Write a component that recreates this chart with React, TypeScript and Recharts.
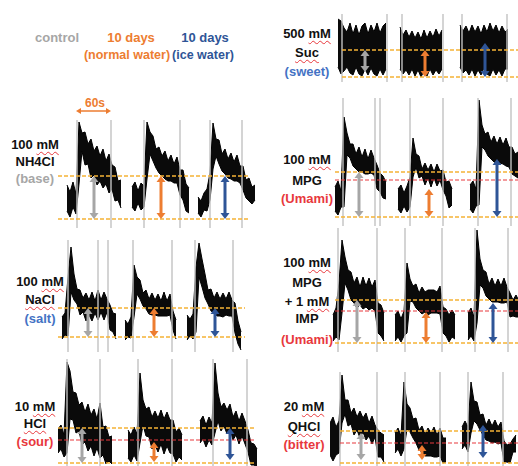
import React from "react";
import { ComposedChart, Area, XAxis, YAxis, ReferenceLine } from "recharts";

// trace envelopes: min/max of the recording, sampled every STEP seconds
// (units on y: response above the lower dashed baseline)
const STEP = 6;

const nh4Start = [18, 148, 280];
const nh4Hi = [
  [34, 27, 37, 25, 97, 86, 87, 75, 80, 68, 73, 63, 70, 58, 65, 54, 52, 38, 39],
  [32, 37, 28, 36, 33, 97, 87, 83, 70, 72, 63, 68, 58, 64, 55, 62, 49, 49, 35, 31],
  [22, 18, 26, 30, 46, 96, 80, 79, 65, 70, 60, 66, 57, 64, 53, 53, 39, 41, 32, 34],
];
const nh4Lo = [
  [8, 2, 12, 5, 35, 68, 54, 55, 41, 44, 34, 38, 31, 35, 26, 30, 18, 19, 11],
  [12, 8, 16, 9, 12, 40, 65, 58, 51, 46, 43, 40, 38, 38, 36, 36, 24, 19, 8, 6],
  [6, 2, 9, 8, 19, 50, 63, 55, 48, 45, 41, 40, 38, 38, 36, 29, 21, 18, 15, 19],
];

const naclStart = [8, 134, 258];
const naclHi = [
  [20, 24, 60, 90, 63, 48, 47, 39, 44, 37, 45, 36, 47, 37, 45, 38, 32, 24, 23],
  [17, 13, 20, 72, 60, 57, 44, 47, 38, 44, 37, 43, 36, 45, 36, 43, 26, 17],
  [22, 18, 23, 70, 94, 78, 63, 47, 48, 39, 45, 38, 44, 38, 45, 37, 34, 16, 5],
];
const naclLo = [
  [-2, 2, 1, 45, 37, 33, 22, 25, 16, 22, 16, 24, 17, 25, 17, 25, 7, 5, -2],
  [-3, 0, -1, 20, 43, 38, 31, 28, 23, 22, 22, 21, 21, 21, 21, 22, 7, -2],
  [-3, 1, -2, 5, 60, 50, 39, 33, 26, 24, 21, 21, 20, 22, 21, 21, 4, -7, -13],
];

const hclStart = [0, 140, 284];
const hclHi = [
  [34, 38, 28, 101, 92, 71, 70, 58, 61, 51, 59, 48, 54, 44, 60, 36, 37, 26, 27],
  [33, 28, 36, 29, 90, 63, 54, 56, 46, 52, 45, 53, 44, 51, 43, 43, 31, 35, 28],
  [42, 47, 38, 46, 40, 100, 70, 56, 60, 53, 59, 46, 52, 42, 50, 42, 33, 20, 19, 14],
];
const hclLo = [
  [10, 14, 6, 10, 44, 43, 30, 32, 18, 21, 12, 17, 7, 15, 5, 8, -1, 2, -1],
  [5, 1, 8, 2, 20, 38, 27, 26, 14, 18, 11, 19, 9, 17, 10, 9, 1, 6, 3],
  [20, 24, 16, 23, 18, 30, 42, 32, 37, 29, 34, 23, 28, 19, 27, 19, 11, -2, -2, -4],
];

const sucStart = [16, 140, 260];
const sucHi = [
  [58, 56, 49, 45, 54, 43, 52, 42, 51, 54, 43, 52, 45, 54, 44, 51, 54],
  [50, 42, 47, 40, 46, 39, 45, 38, 47, 39, 46, 40, 48, 41, 47],
  [52, 46, 51, 44, 52, 45, 51, 43, 52, 45, 54, 46, 52, 44, 51, 45, 48],
];
const sucLo = [
  [10, 3, 6, 10, 4, 2, 10, 3, 1, 8, 2, 9, 3, 1, 8, 2, 8],
  [8, 3, 7, 2, 8, 1, 7, 0, 6, 1, 8, 2, 7, 3, 8],
  [10, 4, 7, 2, 8, 1, 7, 2, 9, 3, 1, 8, 2, 7, 1, 8, 8],
];

const mpgStart = [10, 136, 280];
const mpgHi = [
  [30, 36, 26, 100, 84, 73, 73, 63, 70, 60, 68, 58, 67, 59, 52, 44, 41, 35],
  [28, 32, 24, 31, 40, 79, 63, 61, 48, 54, 47, 53, 45, 53, 46, 47, 35, 36, 28],
  [32, 36, 28, 117, 92, 83, 85, 75, 81, 73, 80, 72, 79, 70, 70, 63, 65],
];
const mpgLo = [
  [6, 2, 10, 10, 62, 59, 51, 48, 45, 45, 43, 43, 44, 42, 28, 25, 19, 18],
  [8, 4, 11, 5, 10, 40, 50, 39, 41, 32, 39, 30, 39, 31, 37, 27, 21, 9, 12],
  [8, 4, 11, 12, 70, 67, 61, 58, 55, 54, 54, 53, 51, 50, 43, 41, 39],
];

const impStart = [6, 130, 276];
const impHi = [
  [28, 35, 60, 103, 86, 73, 71, 60, 66, 56, 66, 57, 65, 56, 63, 40, 38, 30],
  [28, 32, 24, 32, 80, 64, 57, 59, 50, 56, 51, 53, 53, 53, 51, 57, 36, 34, 28, 33, 28],
  [30, 35, 26, 113, 84, 73, 71, 59, 65, 57, 64, 57, 65, 56, 50, 43, 48, 42],
];
const impLo = [
  [2, 6, 3, 30, 60, 53, 43, 40, 35, 38, 34, 36, 33, 35, 32, 10, 7, 2],
  [2, 6, 1, 7, 10, 42, 41, 35, 32, 29, 31, 28, 30, 30, 30, 29, 10, 7, 1, 6, 4],
  [3, 7, 2, 20, 58, 55, 47, 44, 41, 41, 41, 40, 40, 41, 26, 27, 26, 26],
];

const qhclStart = [0, 130, 264];
const qhclHi = [
  [40, 46, 36, 42, 88, 63, 63, 50, 55, 46, 52, 45, 50, 40, 47, 38, 33, 30, 28],
  [30, 35, 27, 81, 59, 55, 44, 45, 33, 37, 29, 35, 30, 36, 28, 35, 25, 25],
  [36, 42, 36, 81, 62, 61, 48, 49, 38, 44, 37, 43, 36, 41, 22, 18, 19, 24, 28],
];
const qhclLo = [
  [8, 2, 8, 10, 40, 49, 37, 39, 28, 33, 25, 31, 23, 27, 19, 26, 6, 6, 1],
  [10, 14, 7, 14, 34, 31, 25, 20, 13, 11, 7, 7, 7, 6, 6, 7, 0, 1],
  [14, 18, 11, 30, 42, 39, 33, 28, 23, 22, 20, 21, 19, 20, 1, 1, 0, 11, 11],
];

// stimulus on/off markers (s)
const nh4Stim = [38, 106, 172, 244, 304, 368];
const naclStim = [20, 80, 100, 150, 228, 274, 350];
const hclStim = [18, 84, 160, 228, 310, 378];
const sucStim = [24, 114, 144, 226, 264, 354];
const mpgStim = [26, 90, 100, 160, 226, 296, 362];
const impStim = [16, 94, 150, 224, 290, 356];
const qhclStim = [20, 94, 150, 220, 276, 346];

// dashed levels: [upper orange, red (or null)]
const nh4Levels = [43, null];
const naclLevels = [29, null];
const hclLevels = [35, 23];
const sucLevels = [27, null];
const mpgLevels = [45, 37];
const impLevels = [43, 32];
const qhclLevels = [32, 20];

// arrows: time, top, bottom  (control, normal water, ice water)
const nh4Arrows = [[72, 43, 0], [206, 43, 0], [334, 43, 0]];
const naclArrows = [[60, 29, 0], [192, 29, 0], [314, 29, 0]];
const hclArrows = [[48, 35, 0], [192, 21, 1], [344, 35, 3]];
const sucArrows = [[70, 27, 5], [190, 27, 0], [310, 34, 0]];
const mpgArrows = [[58, 45, 0], [198, 28, 0], [334, 58, 0]];
const impArrows = [[54, 43, 0], [192, 31, 0], [326, 40, 0]];
const qhclArrows = [[62, 30, 3], [184, 18, 3], [306, 38, 5]];

const nh4Label = ["100 mM", "NH4Cl", "(base)"];
const naclLabel = ["100 mM", "NaCl", "(salt)"];
const hclLabel = ["10 mM", "HCl", "(sour)"];
const sucLabel = ["500 mM", "Suc", "(sweet)"];
const mpgLabel = ["100 mM", "MPG", "(Umami)"];
const impLabel = ["100 mM", "MPG", "+ 1 mM", "IMP", "(Umami)"];
const qhclLabel = ["20 mM", "QHCl", "(bitter)"];

const squiggled = ["mM", "NaCl", "Suc", "HCl", "QHCl"];

const GRAY = "#a6a6a6";
const ORANGE = "#ed7d31";
const NAVY = "#2f5597";
const BLUE = "#4472c4";
const RED = "#e8383d";
const DASH = "#f5b336";
const FONT = "'Liberation Sans', Arial, sans-serif";

function buildRows(starts: number[], his: number[][], los: number[][]) {
  const rows: { t: number; hi: number | null; lo: number | null }[] = [];
  starts.forEach((s, k) => {
    his[k].forEach((h, i) => rows.push({ t: s + i * STEP, hi: h, lo: los[k][i] }));
    rows.push({ t: s + his[k].length * STEP, hi: null, lo: null });
  });
  return rows;
}

const rangeKey = (d: any) => (d.hi == null ? null : [d.lo, d.hi]);

const arrowShape = (color: string) => (p: any) => {
  const x = p.x1;
  const top = Math.min(p.y1, p.y2);
  const bot = Math.max(p.y1, p.y2);
  const h = 6;
  const w = 4.5;
  return (
    <g>
      <line x1={x} x2={x} y1={top + h - 1} y2={bot - h + 1} stroke={color} strokeWidth={3} />
      <polygon points={`${x - w},${top + h} ${x + w},${top + h} ${x},${top}`} fill={color} />
      <polygon points={`${x - w},${bot - h} ${x + w},${bot - h} ${x},${bot}`} fill={color} />
    </g>
  );
};

const arrowColors = [GRAY, ORANGE, NAVY];

function Panel(props: any) {
  const { left, base, yMin, yMax, rows, stims, levels, span, arrows } = props;
  const top = base - yMax;
  const height = yMax - yMin;
  const [upper, red] = levels;
  return (
    <div style={{ position: "absolute", left, top }}>
      <ComposedChart width={200} height={height} data={rows} margin={{ top: 0, right: 0, bottom: 0, left: 0 }}>
        <XAxis type="number" dataKey="t" domain={[0, 400]} hide allowDataOverflow />
        <YAxis type="number" domain={[yMin, yMax]} hide allowDataOverflow />
        {stims.map((t: number) => (
          <ReferenceLine key={"s" + t} x={t} stroke="#c2c2c2" strokeWidth={1.4} ifOverflow="visible" />
        ))}
        <Area
          type="linear"
          dataKey={rangeKey}
          stroke="#000"
          strokeWidth={1}
          fill="#0a0a0a"
          fillOpacity={1}
          dot={false}
          activeDot={false}
          connectNulls={false}
          isAnimationActive={false}
        />
        {[upper, 0].map((y: number) => (
          <ReferenceLine
            key={"o" + y}
            segment={[{ x: span[0], y }, { x: span[1], y }]}
            stroke={DASH}
            strokeWidth={1.3}
            strokeDasharray="4 2"
            ifOverflow="visible"
          />
        ))}
        {red != null && (
          <ReferenceLine
            segment={[{ x: span[0], y: red }, { x: span[1], y: red }]}
            stroke={RED}
            strokeWidth={1.2}
            strokeDasharray="4 2"
            ifOverflow="visible"
          />
        )}
        {arrows.map((a: number[], i: number) => (
          <ReferenceLine
            key={"a" + i}
            segment={[{ x: a[0], y: a[1] }, { x: a[0], y: a[2] }]}
            shape={arrowShape(arrowColors[i])}
            ifOverflow="visible"
          />
        ))}
      </ComposedChart>
    </div>
  );
}

function Text({ x, y, color = "#111", children, size = 13 }: any) {
  return (
    <div
      style={{
        position: "absolute",
        left: x,
        top: y,
        transform: "translate(-50%, -50%)",
        whiteSpace: "nowrap",
        fontFamily: FONT,
        fontWeight: 700,
        fontSize: size,
        color,
        lineHeight: 1,
      }}
    >
      {children}
    </div>
  );
}

function Squiggle({ text }: { text: string }) {
  const parts = text.split(" ");
  return (
    <>
      {parts.map((w, i) => (
        <React.Fragment key={i}>
          {i > 0 ? " " : ""}
          {squiggled.includes(w) ? (
            <span
              style={{
                textDecoration: `underline wavy ${RED}`,
                textDecorationThickness: "1px",
                textUnderlineOffset: "2px",
              }}
            >
              {w}
            </span>
          ) : (
            w
          )}
        </React.Fragment>
      ))}
    </>
  );
}

function Label({ lines, x, ys, color }: any) {
  return (
    <>
      {lines.map((l: string, i: number) => (
        <Text key={i} x={x} y={ys[i]} color={i === lines.length - 1 ? color : "#111"}>
          <Squiggle text={l} />
        </Text>
      ))}
    </>
  );
}

const panels = [
  { key: "nh4", left: 58, base: 219, yMin: -9, yMax: 99, rows: buildRows(nh4Start, nh4Hi, nh4Lo), stims: nh4Stim, levels: nh4Levels, span: [0, 380], arrows: nh4Arrows },
  { key: "nacl", left: 58, base: 337, yMin: -15, yMax: 97, rows: buildRows(naclStart, naclHi, naclLo), stims: naclStim, levels: naclLevels, span: [0, 374], arrows: naclArrows },
  { key: "hcl", left: 58, base: 463, yMin: -4, yMax: 104, rows: buildRows(hclStart, hclHi, hclLo), stims: hclStim, levels: hclLevels, span: [0, 394], arrows: hclArrows },
  { key: "suc", left: 330, base: 77, yMin: -5, yMax: 63, rows: buildRows(sucStart, sucHi, sucLo), stims: sucStim, levels: sucLevels, span: [24, 380], arrows: sucArrows },
  { key: "mpg", left: 330, base: 217, yMin: -9, yMax: 119, rows: buildRows(mpgStart, mpgHi, mpgLo), stims: mpgStim, levels: mpgLevels, span: [10, 380], arrows: mpgArrows },
  { key: "imp", left: 330, base: 343, yMin: -9, yMax: 115, rows: buildRows(impStart, impHi, impLo), stims: impStim, levels: impLevels, span: [10, 380], arrows: impArrows },
  { key: "qhcl", left: 330, base: 463, yMin: -3, yMax: 91, rows: buildRows(qhclStart, qhclHi, qhclLo), stims: qhclStim, levels: qhclLevels, span: [20, 380], arrows: qhclArrows },
];

export default function App() {
  return (
    <div
      style={{
        position: "absolute",
        left: 0,
        top: 0,
        width: 518,
        height: 466,
        overflow: "hidden",
        background: "#fff",
      }}
    >
      {panels.map((p) => (
        <Panel {...p} />
      ))}

      <Text x={57} y={37} color={GRAY}>control</Text>
      <Text x={131} y={37} color={ORANGE}>10 days</Text>
      <Text x={127} y={55} color={ORANGE} size={12.5}>(normal water)</Text>
      <Text x={205} y={37} color={NAVY}>10 days</Text>
      <Text x={203} y={55} color={NAVY} size={12.5}>(ice water)</Text>

      <Text x={95} y={103} color={ORANGE} size={12}>60s</Text>
      <svg style={{ position: "absolute", left: 74, top: 105 }} width={40} height={12}>
        <line x1={4} x2={35} y1={6} y2={6} stroke={ORANGE} strokeWidth={1.5} />
        <polygon points="2,6 7,3 7,9" fill={ORANGE} />
        <polygon points="37,6 32,3 32,9" fill={ORANGE} />
      </svg>

      <Label lines={nh4Label} x={35} ys={[144, 161, 178]} color={GRAY} />
      <Label lines={naclLabel} x={40} ys={[281, 299, 318]} color={BLUE} />
      <Label lines={hclLabel} x={35} ys={[406, 423, 441]} color={RED} />
      <Label lines={sucLabel} x={307} ys={[33, 52, 71]} color={BLUE} />
      <Label lines={mpgLabel} x={307} ys={[159, 180, 198]} color={RED} />
      <Label lines={impLabel} x={307} ys={[262, 282, 301, 318, 339]} color={RED} />
      <Label lines={qhclLabel} x={304} ys={[406, 426, 444]} color={RED} />
    </div>
  );
}
